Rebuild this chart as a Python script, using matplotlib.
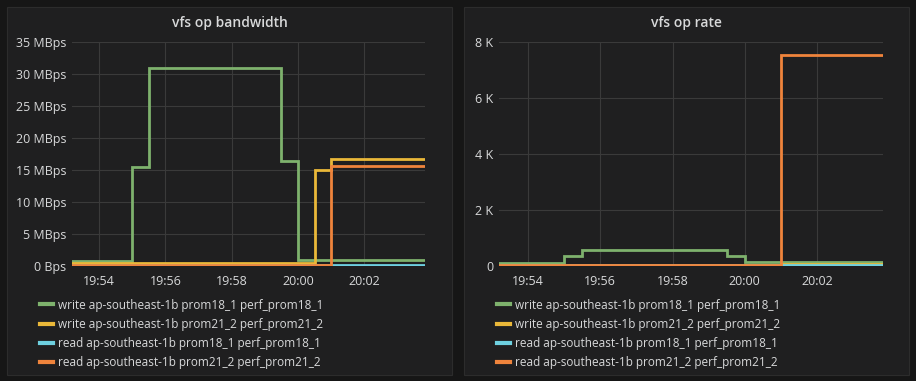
import matplotlib
matplotlib.use('Agg')
import matplotlib.pyplot as plt
import matplotlib.dates as mdates
from matplotlib.patches import Rectangle
from matplotlib.ticker import FuncFormatter
import pandas as pd

# Samples every 30 s, 19:53:00 .. 20:04:00
times = pd.date_range('2017-06-01 19:53:00', periods=23, freq='30s')
x_start = pd.Timestamp('2017-06-01 19:53:11')
x_end = pd.Timestamp('2017-06-01 20:03:50')

labels = [
    'write ap-southeast-1b prom18_1 perf_prom18_1',
    'write ap-southeast-1b prom21_2 perf_prom21_2',
    'read ap-southeast-1b prom18_1 perf_prom18_1',
    'read ap-southeast-1b prom21_2 perf_prom21_2',
]
colors = ['#7eb26d', '#eab839', '#6ed0e0', '#ef843c']

# bandwidth, MBps
bw_write18 = [0.8, 0.8, 0.8, 0.8, 15.5, 31.0, 31.0, 31.0, 31.0, 31.0, 31.0, 31.0, 31.0,
              16.4, 0.95, 0.95, 0.95, 0.95, 0.95, 0.95, 0.95, 0.95, 0.95]
bw_write21 = [0.55, 0.55, 0.55, 0.55, 0.55, 0.55, 0.55, 0.55, 0.55, 0.55, 0.55, 0.55, 0.55,
              0.55, 0.55, 15.0, 16.7, 16.7, 16.7, 16.7, 16.7, 16.7, 16.7]
bw_read18 = [0.2] * 23
bw_read21 = [0.15, 0.15, 0.15, 0.15, 0.15, 0.15, 0.15, 0.15, 0.15, 0.15, 0.15, 0.15, 0.15,
             0.15, 0.15, 0.15, 15.6, 15.6, 15.6, 15.6, 15.6, 15.6, 15.6]

# op rate, ops/s
rate_write18 = [130, 130, 130, 130, 360, 600, 600, 600, 600, 600, 600, 600, 600,
                360, 140, 140, 140, 140, 140, 140, 140, 140, 140]
rate_write21 = [30, 30, 30, 30, 30, 30, 30, 30, 30, 30, 30, 30, 30,
                30, 30, 60, 90, 90, 90, 90, 90, 90, 90]
rate_read18 = [30] * 23
rate_read21 = [30, 30, 30, 30, 30, 30, 30, 30, 30, 30, 30, 30, 30,
               30, 30, 30, 7550, 7550, 7550, 7550, 7550, 7550, 7550]

BG = '#161616'
PANEL = '#1f1f20'
BORDER = '#2c2c2c'
TEXT = '#d8d9da'
GRID = '#3a3a3a'
FONT = 'Open Sans'

W, H = 916, 381
fig = plt.figure(figsize=(W / 100, H / 100), dpi=100, facecolor=BG)


def fx(px):
    return px / W


def fy(py):
    return 1 - py / H


def panel(x0, title, y_max, y_step, y_fmt, ax_left, ax_right, series):
    fig.patches.append(Rectangle((fx(x0), fy(374.5)), fx(445), (374.5 - 7) / H,
                                 transform=fig.transFigure, facecolor=PANEL,
                                 edgecolor=BORDER, linewidth=0.8, zorder=-5))
    fig.text(fx(x0 + 222.5), fy(23.5), title, ha='center', va='center',
             color=TEXT, fontsize=10, fontweight='semibold', family=FONT)

    ax = fig.add_axes([fx(ax_left), fy(266.3), fx(ax_right - ax_left), 224 / H])
    ax.set_facecolor('none')
    for s in ax.spines.values():
        s.set_visible(False)

    for vals, color, lab in zip(series, colors, labels):
        ax.plot(times, vals, drawstyle='steps-post', color=color, lw=2, label=lab,
                solid_joinstyle='miter')

    ax.set_xlim(x_start, x_end)
    ax.set_ylim(0, y_max)
    ax.set_yticks([y_step * i for i in range(int(y_max / y_step) + 1)])
    ax.yaxis.set_major_formatter(FuncFormatter(y_fmt))
    ax.xaxis.set_major_locator(mdates.MinuteLocator(byminute=range(0, 60, 2)))
    ax.xaxis.set_major_formatter(mdates.DateFormatter('%H:%M'))
    ax.grid(True, color=GRID, linewidth=0.8)
    ax.set_axisbelow(True)
    ax.tick_params(length=0, colors=TEXT, labelsize=9)
    ax.tick_params(axis='y', pad=4)
    ax.tick_params(axis='x', pad=6)
    for t in ax.get_xticklabels() + ax.get_yticklabels():
        t.set_family(FONT)

    leg = ax.legend(loc='upper left', bbox_to_anchor=(fx(x0 + 33), fy(298.5)),
                    bbox_transform=fig.transFigure, frameon=False,
                    prop={'family': FONT, 'size': 8.5}, labelcolor=TEXT,
                    handlelength=1.1, handletextpad=0.4, labelspacing=0.53,
                    borderpad=0, borderaxespad=0)
    for h in leg.legend_handles:
        h.set_linewidth(3)
    return ax


panel(7, 'vfs op bandwidth', 35, 5,
      lambda v, p: '0 Bps' if v == 0 else '%d MBps' % v,
      72, 425, [bw_write18, bw_write21, bw_read18, bw_read21])
panel(464.3, 'vfs op rate', 8000, 2000,
      lambda v, p: '0' if v == 0 else '%d K' % (v / 1000),
      498.7, 883, [rate_write18, rate_write21, rate_read18, rate_read21])

fig.savefig('out.png', dpi=100, facecolor=BG)
